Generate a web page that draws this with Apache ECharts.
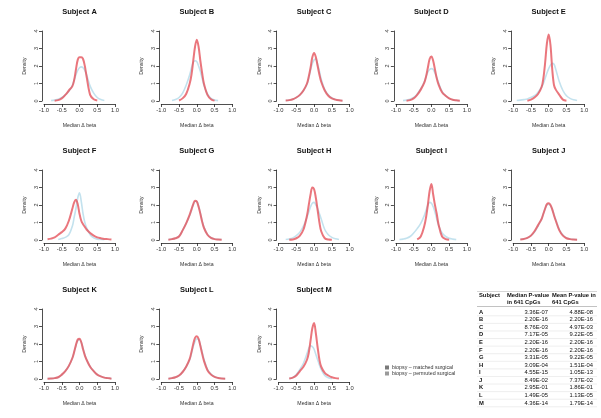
<!DOCTYPE html>
<html><head><meta charset="utf-8">
<script src="https://cdn.jsdelivr.net/npm/echarts@6/dist/echarts.min.js"></script>
<style>html,body{margin:0;padding:0;background:#fff}#c{width:601px;height:418px}</style>
</head><body><div id="c"></div>
<script>
// x positions (Median Δ beta) at which densities were read
const xGrid = [-1,-0.9,-0.8,-0.7,-0.6,-0.5,-0.4,-0.3,-0.2,-0.15,-0.1,-0.05,0,0.05,0.1,0.15,0.2,0.3,0.4,0.5,0.6,0.7,0.8,0.9,1];
const subjects = ['A','B','C','D','E','F','G','H','I','J','K','L','M'];
const xTicks = [-1.0,-0.5,0.0,0.5,1.0];
const yTicks = [0,1,2,3,4];
const _ = null;
// biopsy – matched surgical (red)
const matchedA = [_,_,_,0.02,0.05,0.15,0.35,0.6,0.85,1.2,1.8,2.35,2.5,2.5,2.4,2.0,1.4,0.35,0.1,0.03,_,_,_,_,_];
const matchedB = [_,_,_,_,_,0.03,0.15,0.4,1.0,1.5,2.3,3.1,3.5,3.1,2.3,1.6,1.0,0.35,0.1,0.02,_,_,_,_,_];
const matchedC = [_,_,0.03,0.05,0.1,0.2,0.35,0.6,1.0,1.4,1.9,2.5,2.75,2.5,2.0,1.5,1.1,0.6,0.3,0.15,0.08,0.04,0.02,_,_];
const matchedD = [_,_,_,0.02,0.05,0.15,0.35,0.65,1.05,1.4,1.9,2.4,2.55,2.3,1.8,1.3,0.95,0.5,0.3,0.15,0.07,0.04,0.02,_,_];
const matchedE = [_,_,_,_,0.02,0.08,0.2,0.4,0.8,1.3,2.2,3.3,3.8,3.2,1.8,0.9,0.65,0.35,0.08,0.02,_,_,_,_,_];
const matchedF = [_,0.04,0.08,0.15,0.3,0.45,0.65,1.1,1.8,2.15,2.3,2.05,1.5,1.1,0.9,0.75,0.6,0.4,0.25,0.15,0.1,0.06,0.05,0.03,_];
const matchedG = [_,_,0.02,0.05,0.1,0.2,0.55,0.95,1.45,1.75,2.05,2.25,2.2,1.9,1.5,1.05,0.7,0.3,0.12,0.05,0.03,0.02,_,_,_];
const matchedH = [_,_,_,0.02,0.03,0.1,0.25,0.6,1.4,2.0,2.6,3.0,2.9,2.4,1.7,1.0,0.5,0.1,0.03,0.02,_,_,_,_,_];
const matchedI = [_,_,_,_,_,_,0.03,0.2,0.8,1.3,2.0,2.8,3.2,2.6,2.0,1.5,0.9,0.2,0.05,0.02,_,_,_,_,_];
const matchedJ = [_,_,0.03,0.06,0.12,0.25,0.5,0.85,1.2,1.5,1.8,2.05,2.1,2.0,1.75,1.4,1.1,0.55,0.25,0.1,0.05,0.03,0.02,_,_];
const matchedK = [_,0.02,0.03,0.05,0.1,0.25,0.45,0.75,1.2,1.55,1.95,2.25,2.3,2.1,1.7,1.35,1.1,0.7,0.45,0.25,0.15,0.08,0.05,0.02,_];
const matchedL = [_,_,0.02,0.05,0.1,0.2,0.4,0.7,1.15,1.55,2.0,2.35,2.45,2.3,1.9,1.45,1.05,0.5,0.25,0.12,0.06,0.03,0.02,_,_];
const matchedM = [_,_,_,0.03,0.08,0.2,0.45,0.7,1.1,1.5,2.2,2.9,3.2,2.6,1.8,1.1,0.7,0.35,0.2,0.1,0.05,0.03,_,_,_];
// biopsy – permuted surgical (light blue)
const permutedA = [_,_,0.02,0.05,0.1,0.2,0.35,0.55,0.9,1.2,1.5,1.75,1.9,1.95,1.9,1.75,1.5,0.85,0.45,0.2,0.08,0.03,_,_,_];
const permutedB = [_,_,_,0.03,0.08,0.2,0.45,0.9,1.5,1.9,2.2,2.3,2.25,2.0,1.7,1.3,0.9,0.4,0.15,0.05,0.02,_,_,_,_];
const permutedC = [_,_,0.03,0.05,0.1,0.2,0.35,0.6,0.95,1.3,1.75,2.15,2.35,2.4,2.1,1.7,1.25,0.65,0.35,0.17,0.09,0.04,0.02,_,_];
const permutedD = [_,_,0.02,0.05,0.1,0.2,0.4,0.7,1.1,1.4,1.65,1.8,1.85,1.8,1.6,1.35,1.05,0.55,0.3,0.15,0.07,0.03,0.02,_,_];
const permutedE = [_,0.03,0.05,0.08,0.12,0.2,0.3,0.5,0.8,1.0,1.3,1.6,1.85,2.05,2.15,2.1,1.8,1.1,0.6,0.3,0.15,0.07,0.03,_,_];
const permutedF = [_,_,_,_,0.03,0.08,0.15,0.3,0.8,1.3,1.8,2.4,2.7,2.2,1.5,1.0,0.7,0.3,0.12,0.05,0.03,0.02,_,_,_];
const permutedG = [_,_,0.02,0.05,0.1,0.22,0.55,0.95,1.4,1.7,2.0,2.2,2.2,1.95,1.55,1.1,0.75,0.32,0.13,0.06,0.03,0.02,_,_,_];
const permutedH = [_,_,0.03,0.06,0.12,0.25,0.45,0.8,1.3,1.6,1.9,2.1,2.15,2.0,1.8,1.5,1.2,0.6,0.3,0.15,0.07,0.03,_,_,_];
const permutedI = [_,0.02,0.05,0.1,0.2,0.4,0.65,0.95,1.4,1.7,2.0,2.15,2.1,1.9,1.6,1.2,0.85,0.4,0.2,0.1,0.05,0.02,_,_,_];
const permutedJ = [_,_,0.03,0.06,0.12,0.25,0.45,0.8,1.2,1.5,1.8,2.0,2.05,1.95,1.75,1.45,1.15,0.6,0.28,0.12,0.06,0.03,0.02,_,_];
const permutedK = [_,0.02,0.03,0.05,0.1,0.24,0.45,0.75,1.2,1.55,1.9,2.2,2.25,2.1,1.75,1.4,1.1,0.7,0.45,0.25,0.15,0.08,0.05,0.02,_];
const permutedL = [_,_,0.02,0.05,0.1,0.2,0.4,0.7,1.1,1.45,1.85,2.15,2.3,2.25,1.95,1.55,1.15,0.55,0.28,0.13,0.06,0.03,0.02,_,_];
const permutedM = [_,_,_,0.02,0.08,0.25,0.55,0.9,1.45,1.75,1.9,1.85,1.7,1.4,1.1,0.8,0.55,0.2,0.07,0.02,_,_,_,_,_];
// table
const medianP = ['3.36E-07','2.20E-16','8.76E-03','7.17E-05','2.20E-16','2.20E-16','3.31E-05','3.09E-04','4.55E-15','8.49E-02','2.95E-01','1.49E-05','4.36E-14'];
const meanP   = ['4.88E-08','2.20E-16','4.97E-03','9.22E-05','2.20E-16','2.20E-16','9.22E-05','1.51E-04','1.05E-13','7.37E-02','1.86E-01','1.13E-05','1.79E-14'];
const tableHeader = ['Subject','Median P-value','in 641 CpGs','Mean P-value in','641 CpGs'];
const seriesNames = ['biopsy – matched surgical','biopsy – permuted surgical'];

const matched = [matchedA,matchedB,matchedC,matchedD,matchedE,matchedF,matchedG,matchedH,matchedI,matchedJ,matchedK,matchedL,matchedM];
const permuted = [permutedA,permutedB,permutedC,permutedD,permutedE,permutedF,permutedG,permutedH,permutedI,permutedJ,permutedK,permutedL,permutedM];

const FONT = '"Liberation Sans", Arial, sans-serif';
const grids=[], xAxes=[], yAxes=[], titles=[], series=[];
subjects.forEach((s,i)=>{
  const r=Math.floor(i/5), c=i%5;
  const left=44+c*117.3, top=31+r*139, w=71, h=70;
  grids.push({left:left, top:top, width:w, height:h});
  titles.push({text:'Subject '+s, left:left+w/2, top:top-23, textAlign:'center', padding:0,
    textStyle:{fontSize:7.5, fontWeight:'bold', color:'#111', fontFamily:FONT}});
  const axLine={show:true, onZero:false, lineStyle:{color:'#222', width:0.8}};
  xAxes.push({type:'value', gridIndex:i, min:-1, max:1, interval:0.5, offset:3,
    axisLine:axLine, axisTick:{show:true,length:3,lineStyle:{color:'#222',width:0.8}},
    splitLine:{show:false},
    axisLabel:{fontSize:5.8, margin:3, color:'#333', fontFamily:FONT, formatter:v=>v.toFixed(1)},
    name:'Median Δ beta', nameLocation:'middle', nameGap:19,
    nameTextStyle:{fontSize:5.2, color:'#333', fontFamily:FONT}});
  yAxes.push({type:'value', gridIndex:i, min:0, max:4, interval:1, offset:2,
    axisLine:axLine, axisTick:{show:true,length:3,lineStyle:{color:'#222',width:0.8}},
    splitLine:{show:false},
    axisLabel:{fontSize:5.5, margin:3, rotate:90, color:'#333', fontFamily:FONT},
    name:'Density', nameLocation:'middle', nameGap:15, nameRotate:90,
    nameTextStyle:{fontSize:5.2, color:'#333', fontFamily:FONT}});
  series.push({type:'line', name:seriesNames[1], xAxisIndex:i, yAxisIndex:i, showSymbol:false, smooth:0.35,
    data:xGrid.map((x,k)=>[x, permuted[i][k]]), lineStyle:{color:'#c3e2ee', width:1.6}, itemStyle:{color:'#c3e2ee'}, z:2});
  series.push({type:'line', name:seriesNames[0], xAxisIndex:i, yAxisIndex:i, showSymbol:false, smooth:0.35,
    data:xGrid.map((x,k)=>[x, matched[i][k]]), lineStyle:{color:'rgba(228,80,88,0.78)', width:2}, itemStyle:{color:'rgba(228,80,88,0.78)'}, z:3});
});

// table graphics
const TF = '"Liberation Sans Narrow", "Liberation Sans", Arial, sans-serif';
const g=[];
const tx=(text,x,y,align,bold,col)=>g.push({type:'text', x:x, y:y, silent:true,
  style:{text:text, fill:col||'#111', font:(bold?'bold ':'')+'5.8px '+TF, textAlign:align, textVerticalAlign:'middle'}});
const ln=(y,col,wd)=>g.push({type:'line', silent:true, shape:{x1:477,y1:y,x2:597,y2:y}, style:{stroke:col,lineWidth:wd}});
ln(291.5,'#bbb',0.6);
tx(tableHeader[0],479,295.5,'left',true);
tx(tableHeader[1],507,295.5,'left',true);
tx(tableHeader[2],507,302,'left',true);
tx(tableHeader[3],552,295.5,'left',true);
tx(tableHeader[4],552,302,'left',true);
ln(306.5,'#999',0.6);
const rowH=(403-312)/12;
subjects.forEach((s,k)=>{
  const y=312+k*rowH;
  tx(s,479,y,'left',true);
  tx(medianP[k],548,y,'right',false);
  tx(meanP[k],593,y,'right',false);
  ln(y+rowH/2,'#ddd',0.5);
});

const chart=echarts.init(document.getElementById('c'),null,{renderer:'canvas'});
chart.setOption({
  animation:false,
  backgroundColor:'#fff',
  title:titles, grid:grids, xAxis:xAxes, yAxis:yAxes, series:series,
  legend:{orient:'vertical', left:385, top:365, padding:0, itemWidth:4, itemHeight:4, itemGap:1, icon:'rect', selectedMode:false,
    textStyle:{fontSize:5.3, color:'#333', fontFamily:FONT, padding:[0,0,0,-2]},
    data:[{name:seriesNames[0], itemStyle:{color:'#7a7a7a'}},{name:seriesNames[1], itemStyle:{color:'#9a9a9a'}}]},
  graphic:g
});
</script></body></html>
